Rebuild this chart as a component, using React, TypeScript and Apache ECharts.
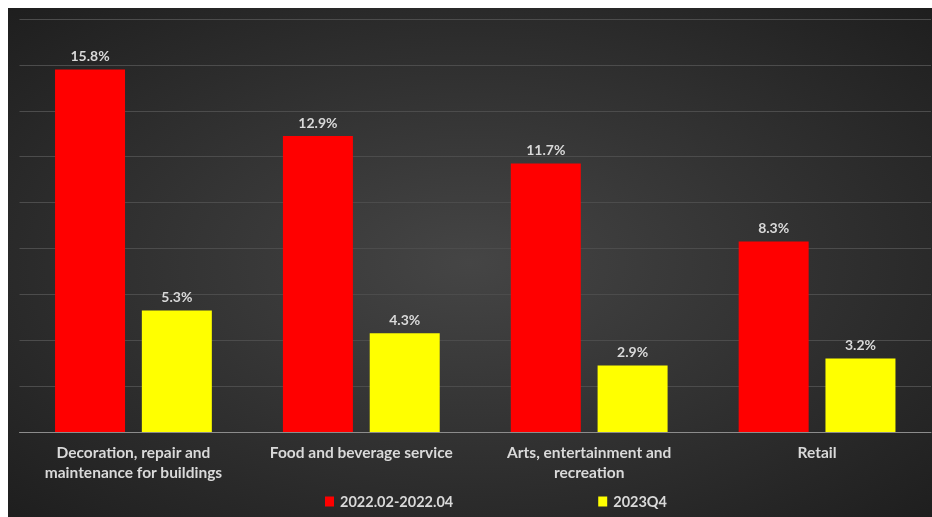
import React, { useEffect, useRef } from "react";
import * as echarts from "echarts";

const categories = [
  "Decoration, repair and\nmaintenance for buildings",
  "Food and beverage service",
  "Arts, entertainment and\nrecreation",
  "Retail",
];
const seriesNames = ["2022.02-2022.04", "2023Q4"];
const values2022 = [15.8, 12.9, 11.7, 8.3];
const values2023 = [5.3, 4.3, 2.9, 3.2];

const FONT = "Lato";
const TEXT = "#d9d9d9";

export default function App() {
  const ref = useRef<HTMLDivElement>(null);
  useEffect(() => {
    if (!ref.current) return;
    const chart = echarts.init(ref.current, undefined, { renderer: "svg" });
    const label = {
      show: true,
      position: "top",
      distance: 7,
      color: TEXT,
      fontFamily: FONT,
      fontWeight: "bold",
      fontSize: 14,
      formatter: (p: any) => p.value.toFixed(1) + "%",
    };
    chart.setOption({
      animation: false,
      backgroundColor: {
        type: "radial",
        x: 0.5,
        y: 0.5,
        r: 0.75,
        colorStops: [
          { offset: 0, color: "#454545" },
          { offset: 1, color: "#1c1c1c" },
        ],
      },
      grid: { left: 11.5, right: 1, top: 11, bottom: 85, containLabel: false },
      legend: {
        top: 481,
        left: 312,
        itemWidth: 9,
        itemHeight: 10,
        itemGap: 145,
        icon: "rect",
        textStyle: { color: TEXT, fontFamily: FONT, fontWeight: "bold", fontSize: 14.5, padding: [0, 0, 0, 1] },
        data: seriesNames,
      },
      xAxis: {
        type: "category",
        data: categories,
        axisLine: { lineStyle: { color: "#8c8c8c", width: 1 } },
        axisTick: { show: false },
        axisLabel: {
          color: TEXT,
          fontFamily: FONT,
          fontWeight: "bold",
          fontSize: 15.5,
          lineHeight: 20,
          margin: 10,
          interval: 0,
        },
      },
      yAxis: {
        type: "value",
        min: 0,
        max: 18,
        interval: 2,
        axisLabel: { show: false },
        axisLine: { show: false },
        axisTick: { show: false },
        splitLine: { lineStyle: { color: "#4c4c4c", width: 1 } },
      },
      series: [
        {
          name: seriesNames[0],
          type: "bar",
          data: values2022,
          barWidth: 70,
          barGap: "24%",
          itemStyle: { color: "#ff0000" },
          label,
        },
        {
          name: seriesNames[1],
          type: "bar",
          data: values2023,
          barWidth: 70,
          itemStyle: { color: "#ffff00" },
          label,
        },
      ],
    });
    return () => chart.dispose();
  }, []);
  return (
    <div
      ref={ref}
      style={{ position: "fixed", left: 8, top: 8, width: 924, height: 509 }}
    />
  );
}
